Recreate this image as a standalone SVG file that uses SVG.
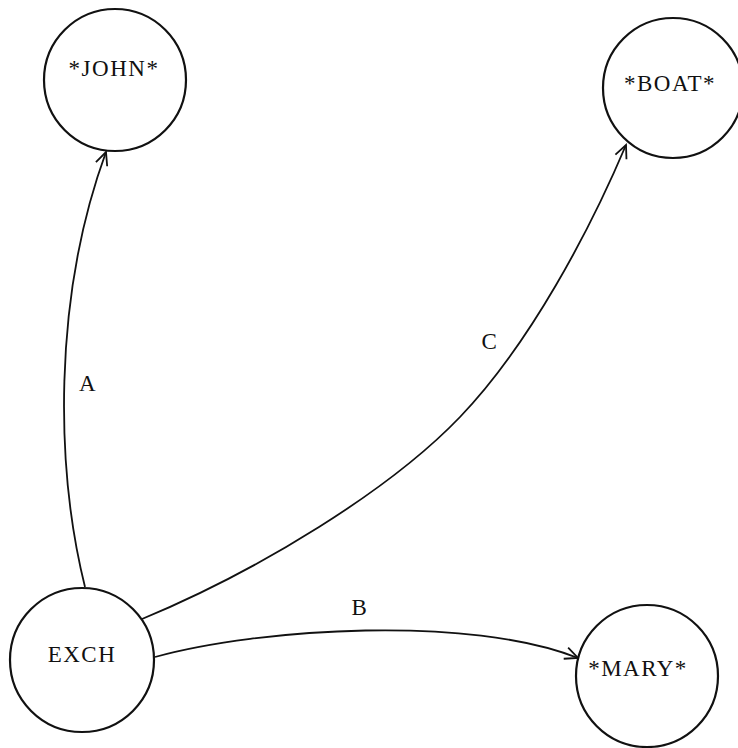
<svg xmlns="http://www.w3.org/2000/svg" width="738" height="748" viewBox="0 0 738 748">
<style>
.node{fill:#fff;stroke:#111;stroke-width:2.2}
.lbl{font-family:"Liberation Serif","DejaVu Serif",serif;font-size:23px;letter-spacing:1.5px;fill:#111;text-anchor:middle}
.edge{fill:none;stroke:#111;stroke-width:1.8}
</style>
<defs>
<marker id="arr" viewBox="-14 -8 16 16" markerWidth="16" markerHeight="16" refX="0" refY="0" orient="auto" markerUnits="userSpaceOnUse">
<path d="M-13,-6 L0,0 L-13,6" fill="none" stroke="#111" stroke-width="1.8"/>
</marker>
</defs>
<rect width="738" height="748" fill="#fff"/>
<g id="connectors">
<path class="edge" d="M85,587 C56,470 52,300 106,152" marker-end="url(#arr)"/>
<path class="edge" d="M155,657 C260,628 470,615 578,658" marker-end="url(#arr)"/>
<path class="edge" d="M142,619 C260,570 390,490 460,417 S590,230 626,145" marker-end="url(#arr)"/>
<text class="lbl" x="88" y="391">A</text>
<text class="lbl" x="360" y="615">B</text>
<text class="lbl" x="490" y="349">C</text>
</g>
<g id="john"><circle class="node" cx="115" cy="80" r="71"/><text class="lbl" x="114" y="76">*JOHN*</text></g>
<g id="boat"><circle class="node" cx="673" cy="88" r="70"/><text class="lbl" x="670" y="91">*BOAT*</text></g>
<g id="exch"><circle class="node" cx="82" cy="660" r="72"/><text class="lbl" x="82" y="662">EXCH</text></g>
<g id="mary"><circle class="node" cx="647" cy="676" r="71"/><text class="lbl" x="638" y="676">*MARY*</text></g>
</svg>
